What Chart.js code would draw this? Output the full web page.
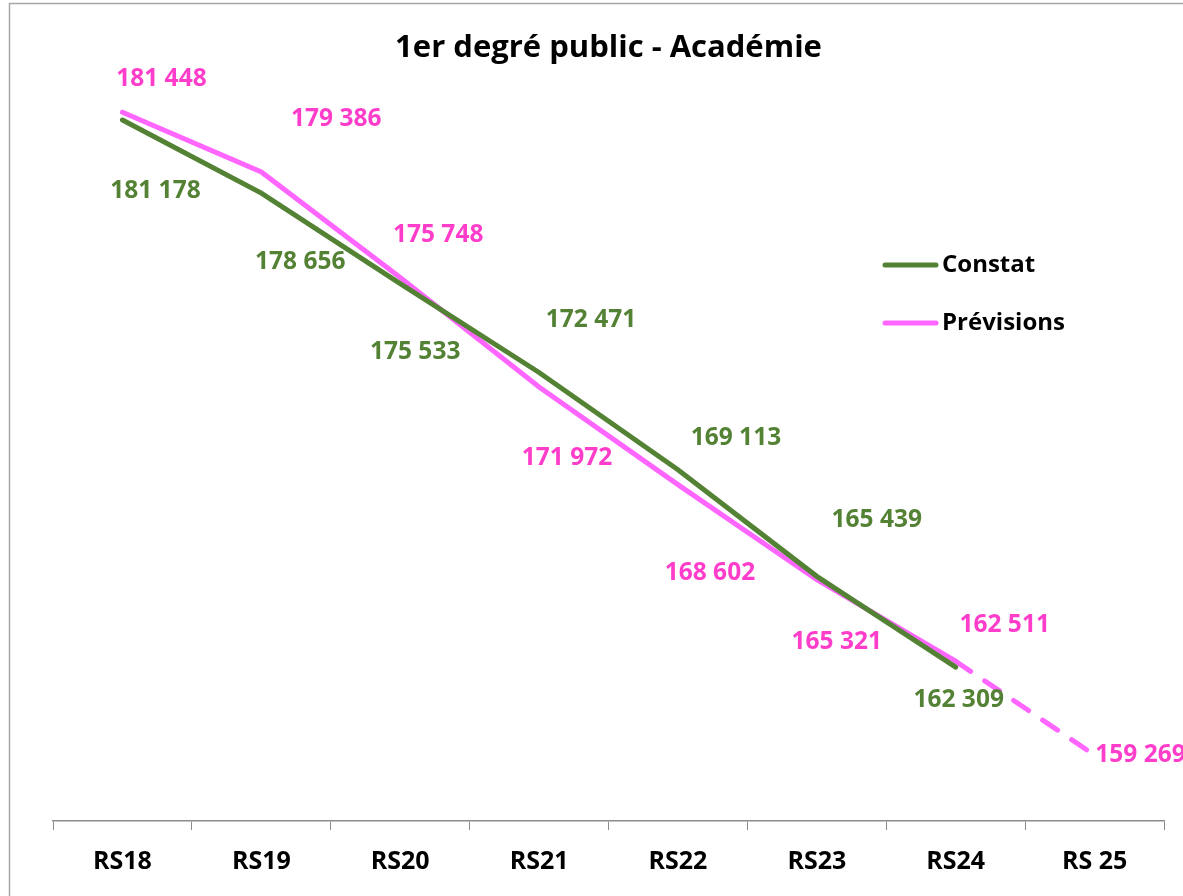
<!DOCTYPE html>
<html>
<head>
<meta charset="utf-8">
<script src="https://cdn.jsdelivr.net/npm/chart.js@4"></script>
<style>
html, body { margin: 0; padding: 0; background: #fff; overflow: hidden; }
#wrap { position: relative; width: 1183px; height: 896px; }
</style>
</head>
<body>
<div id="wrap"><canvas id="myChart" width="1183" height="896"></canvas></div>
<script>
const categories = ['RS18', 'RS19', 'RS20', 'RS21', 'RS22', 'RS23', 'RS24', 'RS 25'];
const constat = [181178, 178656, 175533, 172471, 169113, 165439, 162309, null];
const previsions = [181448, 179386, 175748, 171972, 168602, 165321, 162511, 159269];

// label offsets from each point (px)
const constatOffsets = [[33, 71], [39, 69], [15, 68], [52, -52], [58, -32], [60, -56], [3, 33]];
const previsionsOffsets = [[39, -33], [75, -53], [38, -42], [28, 71], [32, 88], [20, 62], [49, -36], [46, 0]];

const FONT = '"Open Sans", "Noto Sans", sans-serif';
const green = '#548235';
const pinkLine = '#FF66FF';
const pinkText = '#FF3DCB';

function fmt(v) {
    return String(v).replace(/\B(?=(\d{3})+(?!\d))/g, ' ');
}

const frame = {
    id: 'frame',
    beforeDraw(chart) {
        const c = chart.ctx;
        c.save();
        c.fillStyle = '#fff';
        c.fillRect(0, 0, chart.width, chart.height);
        c.strokeStyle = '#A6A6A6';
        c.lineWidth = 1.5;
        c.strokeRect(9.5, 3.5, 1400, 1200);
        c.restore();
    }
};

const labelsPlugin = {
    id: 'valueLabels',
    afterDatasetsDraw(chart) {
        const c = chart.ctx;
        c.save();
        c.font = 'bold 24.5px ' + FONT;
        c.textAlign = 'center';
        c.textBaseline = 'middle';
        chart.data.datasets.forEach(function (ds, di) {
            const meta = chart.getDatasetMeta(di);
            const offs = ds.labelOffsets;
            c.fillStyle = ds.labelColor;
            ds.data.forEach(function (v, i) {
                if (v == null) return;
                const p = meta.data[i];
                c.fillText(fmt(v), p.x + offs[i][0], p.y + offs[i][1]);
            });
        });
        // legend
        c.textAlign = 'left';
        c.lineCap = 'round';
        c.lineWidth = 5;
        c.font = 'bold 24px ' + FONT;
        chart.data.datasets.forEach(function (ds, di) {
            const y = 265 + di * 58;
            c.strokeStyle = ds.borderColor;
            c.beginPath();
            c.moveTo(885, y);
            c.lineTo(936, y);
            c.stroke();
            c.fillStyle = '#000';
            c.fillText(ds.label, 942, y);
        });
        c.restore();
    }
};

const data = {
    labels: categories,
    datasets: [
        {
            label: 'Constat',
            data: constat,
            borderColor: green,
            borderWidth: 5,
            pointRadius: 0,
            tension: 0,
            borderCapStyle: 'round',
            labelColor: green,
            labelOffsets: constatOffsets
        },
        {
            label: 'Prévisions',
            data: previsions,
            borderColor: pinkLine,
            borderWidth: 5,
            pointRadius: 0,
            tension: 0,
            borderCapStyle: 'round',
            labelColor: pinkText,
            labelOffsets: previsionsOffsets,
            segment: {
                borderDash: function (ctx) { return ctx.p1DataIndex === 7 ? [18, 17] : undefined; }
            }
        }
    ]
};

const config = {
    type: 'line',
    data: data,
    options: {
        responsive: false,
        animation: false,
        layout: { padding: { left: 53, right: 19, top: 0, bottom: 2 } },
        plugins: {
            legend: { display: false },
            tooltip: { enabled: false },
            title: {
                display: true,
                text: '1er degré public - Académie',
                color: '#000',
                font: { family: FONT, size: 31, weight: 'bold' },
                padding: { top: 30, bottom: 0 }
            }
        },
        scales: {
            x: {
                offset: true,
                grid: {
                    drawOnChartArea: false,
                    drawTicks: true,
                    tickLength: 9,
                    color: '#8C8C8C',
                    offset: true
                },
                border: { display: true, color: '#8C8C8C', width: 1.5 },
                ticks: {
                    color: '#000',
                    padding: 17,
                    font: { family: FONT, size: 25, weight: 'bold' }
                }
            },
            y: {
                display: false,
                min: 157000,
                max: 183000
            }
        }
    },
    plugins: [frame, labelsPlugin]
};

const ctx = document.getElementById('myChart').getContext('2d');
new Chart(ctx, config);
</script>
</body>
</html>
